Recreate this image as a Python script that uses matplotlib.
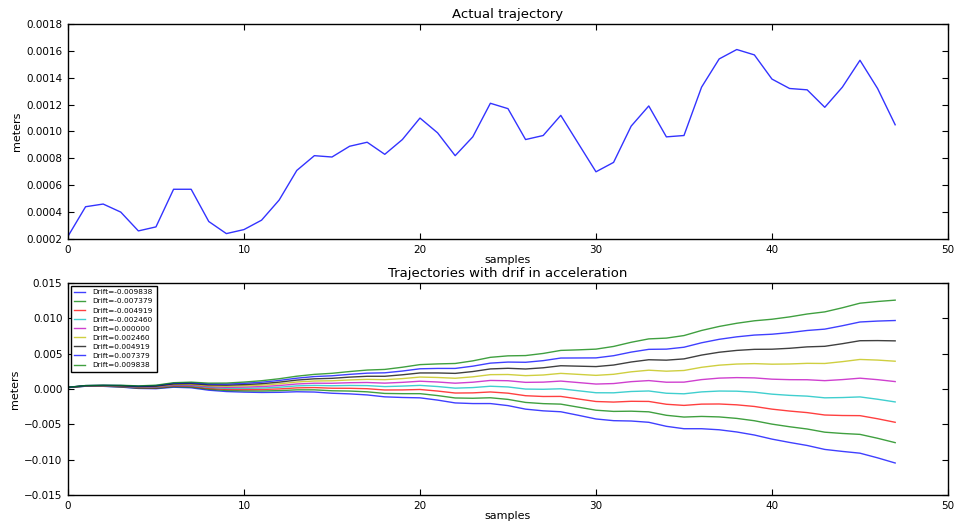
import matplotlib
matplotlib.use('Agg')
import matplotlib.pyplot as plt
import matplotlib.ticker as ticker
import numpy as np

# all trajectory values below are in millimetres (converted to meters when plotted)
samples = np.arange(48)

actual = [0.22, 0.44, 0.46, 0.40, 0.26, 0.29, 0.57, 0.57, 0.33, 0.24, 0.27, 0.34,
          0.49, 0.71, 0.82, 0.81, 0.89, 0.92, 0.83, 0.94, 1.10, 0.99, 0.82, 0.96,
          1.21, 1.17, 0.94, 0.97, 1.12, 0.91, 0.70, 0.77, 1.04, 1.19, 0.96, 0.97,
          1.33, 1.54, 1.61, 1.57, 1.39, 1.32, 1.31, 1.18, 1.33, 1.53, 1.32, 1.05]

drifts = [-0.009838, -0.007379, -0.004919, -0.002460, 0.000000,
          0.002460, 0.004919, 0.007379, 0.009838]
drift_colors = ['b', 'g', 'r', 'c', 'm', 'y', 'k', 'b', 'g']

drift_m9838 = [0.20, 0.39, 0.38, 0.27, 0.08, 0.04, 0.25, 0.17, -0.17, -0.36, -0.44, -0.49,
               -0.47, -0.39, -0.43, -0.60, -0.69, -0.84, -1.11, -1.20, -1.25, -1.57, -1.97, -2.06,
               -2.06, -2.35, -2.85, -3.09, -3.22, -3.72, -4.24, -4.48, -4.53, -4.71, -5.28, -5.62,
               -5.62, -5.77, -6.08, -6.51, -7.09, -7.56, -7.99, -8.55, -8.83, -9.08, -9.74, -10.47]
drift_m7379 = [0.20, 0.40, 0.40, 0.30, 0.12, 0.10, 0.33, 0.27, -0.04, -0.21, -0.26, -0.28,
               -0.23, -0.12, -0.12, -0.25, -0.29, -0.40, -0.63, -0.66, -0.66, -0.93, -1.27, -1.31,
               -1.24, -1.47, -1.90, -2.07, -2.14, -2.57, -3.00, -3.17, -3.14, -3.23, -3.72, -3.97,
               -3.88, -3.95, -4.16, -4.49, -4.97, -5.34, -5.66, -6.11, -6.29, -6.42, -6.97, -7.59]
drift_m4919 = [0.21, 0.42, 0.42, 0.34, 0.17, 0.17, 0.41, 0.37, 0.08, -0.06, -0.08, -0.07,
               0.01, 0.16, 0.20, 0.11, 0.10, 0.04, -0.14, -0.13, -0.07, -0.29, -0.57, -0.55,
               -0.42, -0.59, -0.95, -1.06, -1.05, -1.41, -1.77, -1.85, -1.74, -1.76, -2.16, -2.32,
               -2.14, -2.12, -2.24, -2.47, -2.85, -3.12, -3.34, -3.68, -3.75, -3.77, -4.21, -4.71]
drift_m2460 = [0.21, 0.43, 0.44, 0.37, 0.21, 0.23, 0.49, 0.47, 0.21, 0.09, 0.09, 0.13,
               0.25, 0.44, 0.51, 0.46, 0.50, 0.48, 0.34, 0.41, 0.51, 0.35, 0.12, 0.20,
               0.39, 0.29, -0.01, -0.04, 0.03, -0.25, -0.53, -0.54, -0.35, -0.28, -0.60, -0.68,
               -0.41, -0.29, -0.31, -0.45, -0.73, -0.90, -1.01, -1.25, -1.21, -1.12, -1.45, -1.83]
drift_zero = [0.22, 0.44, 0.46, 0.40, 0.26, 0.29, 0.57, 0.57, 0.33, 0.24, 0.27, 0.34,
              0.49, 0.71, 0.82, 0.81, 0.89, 0.92, 0.83, 0.94, 1.10, 0.99, 0.82, 0.96,
              1.21, 1.17, 0.94, 0.97, 1.12, 0.91, 0.70, 0.77, 1.04, 1.19, 0.96, 0.97,
              1.33, 1.54, 1.61, 1.57, 1.39, 1.32, 1.31, 1.18, 1.33, 1.53, 1.32, 1.05]
drift_p2460 = [0.23, 0.45, 0.48, 0.43, 0.31, 0.35, 0.65, 0.67, 0.45, 0.39, 0.45, 0.55,
               0.73, 0.99, 1.13, 1.16, 1.28, 1.36, 1.32, 1.47, 1.69, 1.63, 1.52, 1.72,
               2.03, 2.05, 1.89, 1.98, 2.21, 2.07, 1.93, 2.08, 2.43, 2.66, 2.52, 2.62,
               3.07, 3.37, 3.53, 3.59, 3.51, 3.54, 3.63, 3.61, 3.87, 4.18, 4.09, 3.93]
drift_p4919 = [0.23, 0.47, 0.50, 0.46, 0.35, 0.41, 0.73, 0.77, 0.58, 0.54, 0.62, 0.75,
               0.97, 1.26, 1.44, 1.51, 1.68, 1.80, 1.80, 2.01, 2.27, 2.27, 2.21, 2.47,
               2.84, 2.93, 2.83, 3.00, 3.29, 3.23, 3.17, 3.39, 3.82, 4.14, 4.08, 4.26,
               4.80, 5.20, 5.46, 5.61, 5.63, 5.76, 5.96, 6.04, 6.41, 6.83, 6.85, 6.81]
drift_p7379 = [0.24, 0.48, 0.52, 0.50, 0.40, 0.48, 0.81, 0.87, 0.70, 0.69, 0.80, 0.96,
               1.21, 1.53, 1.76, 1.87, 2.07, 2.24, 2.29, 2.54, 2.86, 2.91, 2.91, 3.23,
               3.66, 3.81, 3.78, 4.01, 4.38, 4.39, 4.40, 4.71, 5.22, 5.61, 5.64, 5.91,
               6.54, 7.03, 7.38, 7.63, 7.75, 7.98, 8.28, 8.47, 8.95, 9.48, 9.61, 9.69]
drift_p9838 = [0.24, 0.49, 0.54, 0.53, 0.44, 0.54, 0.89, 0.97, 0.83, 0.84, 0.98, 1.17,
               1.45, 1.81, 2.07, 2.22, 2.47, 2.68, 2.77, 3.08, 3.45, 3.55, 3.61, 3.98,
               4.48, 4.69, 4.73, 5.03, 5.46, 5.54, 5.64, 6.02, 6.61, 7.09, 7.20, 7.56,
               8.28, 8.85, 9.30, 9.65, 9.87, 10.20, 10.61, 10.91, 11.49, 12.14, 12.38, 12.57]

drift_series = [drift_m9838, drift_m7379, drift_m4919, drift_m2460, drift_zero,
                drift_p2460, drift_p4919, drift_p7379, drift_p9838]

plt.rcParams['font.family'] = 'DejaVu Sans'
plt.rcParams['xtick.direction'] = 'in'
plt.rcParams['ytick.direction'] = 'in'
plt.rcParams['xtick.top'] = True
plt.rcParams['ytick.right'] = True
plt.rcParams['xtick.major.size'] = 4
plt.rcParams['ytick.major.size'] = 4
plt.rcParams['axes.linewidth'] = 1.0

def minus_fmt(fmt):
    return ticker.FuncFormatter(lambda v, pos: (fmt % v).replace('-', '\u2212'))

fig = plt.figure(figsize=(9.56, 5.25), dpi=100)

### top: actual trajectory
ax_top = fig.add_axes([0.0711, 0.5448, 0.9205, 0.4095])
ax_top.plot(samples, np.array(actual) * 1e-3, color='b', linewidth=1.0, alpha=0.8)
ax_top.set_xlim(0, 50)
ax_top.set_ylim(0.0002, 0.0018)
ax_top.set_yticks(np.arange(0.0002, 0.00181, 0.0002))
ax_top.yaxis.set_major_formatter(minus_fmt('%.4f'))
ax_top.set_title('Actual trajectory', fontsize=9.5, pad=4)
ax_top.set_xlabel('samples', fontsize=8, labelpad=0.5)
ax_top.set_ylabel('meters', fontsize=8, labelpad=3)
ax_top.tick_params(labelsize=7.5, pad=4)

### bottom: trajectories with drift
ax_bot = fig.add_axes([0.0711, 0.0571, 0.9205, 0.4039])
for d, col, series in zip(drifts, drift_colors, drift_series):
    ax_bot.plot(samples, np.array(series) * 1e-3, color=col, linewidth=1.0, alpha=0.75,
                label='Drift=%f' % d)
ax_bot.set_xlim(0, 50)
ax_bot.set_ylim(-0.015, 0.015)
ax_bot.set_yticks(np.arange(-0.015, 0.0151, 0.005))
ax_bot.yaxis.set_major_formatter(minus_fmt('%.3f'))
ax_bot.set_title('Trajectories with drif in acceleration', fontsize=9.5, pad=4)
ax_bot.set_xlabel('samples', fontsize=8, labelpad=0.5)
ax_bot.set_ylabel('meters', fontsize=8, labelpad=3)
ax_bot.tick_params(labelsize=7.5, pad=4)
leg = ax_bot.legend(loc='upper left', fontsize=5.3, fancybox=False, framealpha=1,
                    handlelength=1.4, handletextpad=1.1, labelspacing=0.4,
                    borderpad=0.5, borderaxespad=0.35)
leg.get_frame().set_edgecolor('black')
leg.get_frame().set_linewidth(1.0)

fig.savefig('out.png', dpi=100)
